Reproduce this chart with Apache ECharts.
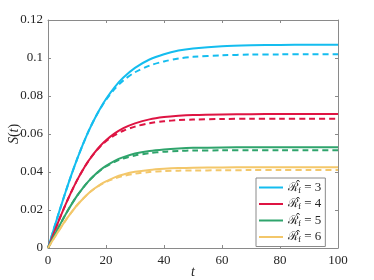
<!DOCTYPE html>
<html><head><meta charset="utf-8">
<script src="https://cdn.jsdelivr.net/npm/echarts@6/dist/echarts.min.js"></script>
<style>html,body{margin:0;padding:0;background:#fff}#c{width:374px;height:280px}</style>
</head><body><div id="c"></div>
<script>
const tValues   = [0, 2, 4, 6, 8, 10, 12, 14, 16, 18, 20, 23, 26, 30, 35, 40, 45, 50, 60, 70, 80, 90, 100];
const cyanSolid = [0, 0.0100, 0.0198, 0.0292, 0.0382, 0.0466, 0.0544, 0.0615, 0.0678, 0.0734, 0.0784, 0.0847, 0.0897, 0.0948, 0.0992, 0.1020, 0.1039, 0.1050, 0.1062, 0.1067, 0.1069, 0.1070, 0.1070];
const cyanDash  = [0, 0.0100, 0.0198, 0.0292, 0.0382, 0.0466, 0.0544, 0.0615, 0.0678, 0.0732, 0.0780, 0.0838, 0.0882, 0.0925, 0.0960, 0.0982, 0.0997, 0.1006, 0.1014, 0.1018, 0.1019, 0.1020, 0.1020];
const redSolid  = [0, 0.0078, 0.0154, 0.0227, 0.0294, 0.0356, 0.0411, 0.0459, 0.0501, 0.0537, 0.0567, 0.0603, 0.0631, 0.0656, 0.0677, 0.0689, 0.0696, 0.0700, 0.0703, 0.0704, 0.0705, 0.0705, 0.0705];
const redDash   = [0, 0.0078, 0.0154, 0.0227, 0.0294, 0.0356, 0.0411, 0.0459, 0.0500, 0.0534, 0.0562, 0.0594, 0.0617, 0.0639, 0.0657, 0.0667, 0.0673, 0.0676, 0.0679, 0.0680, 0.0680, 0.0680, 0.0680];
const greenSolid= [0, 0.0060, 0.0119, 0.0175, 0.0227, 0.0274, 0.0315, 0.0352, 0.0383, 0.0410, 0.0432, 0.0459, 0.0478, 0.0497, 0.0511, 0.0519, 0.0524, 0.0527, 0.0529, 0.0530, 0.0530, 0.0530, 0.0530];
const greenDash = [0, 0.0060, 0.0119, 0.0175, 0.0227, 0.0274, 0.0315, 0.0352, 0.0382, 0.0408, 0.0429, 0.0454, 0.0471, 0.0487, 0.0499, 0.0507, 0.0511, 0.0513, 0.0514, 0.0515, 0.0515, 0.0515, 0.0515];
const yellowSolid=[0, 0.0050, 0.0098, 0.0144, 0.0186, 0.0225, 0.0258, 0.0288, 0.0313, 0.0334, 0.0351, 0.0372, 0.0387, 0.0401, 0.0411, 0.0417, 0.0421, 0.0423, 0.0424, 0.0425, 0.0425, 0.0425, 0.0425];
const yellowDash= [0, 0.0050, 0.0098, 0.0144, 0.0186, 0.0225, 0.0258, 0.0288, 0.0312, 0.0332, 0.0348, 0.0366, 0.0379, 0.0391, 0.0400, 0.0405, 0.0407, 0.0408, 0.0409, 0.0410, 0.0410, 0.0410, 0.0410];
const rfValues  = ['3', '4', '5', '6'];
const xTicks    = ['0', '20', '40', '60', '80', '100'];
const yTicks    = ['0', '0.02', '0.04', '0.06', '0.08', '0.1', '0.12'];

const colors = ['#14BDEF', '#DE1443', '#2FA46C', '#F3C76A'];
const solids = [cyanSolid, redSolid, greenSolid, yellowSolid];
const dashes = [cyanDash, redDash, greenDash, yellowDash];
const pairs = arr => tValues.map((t, i) => [t, arr[i]]);

const series = [];
rfValues.forEach((r, k) => {
  series.push({
    name: 'Rf' + r, type: 'line', data: pairs(solids[k]), symbol: 'none', smooth: 0.3,
    lineStyle: { color: colors[k], width: 2 }, itemStyle: { color: colors[k] }, z: 3
  });
  series.push({
    name: 'dash' + r, type: 'line', data: pairs(dashes[k]), symbol: 'none', smooth: 0.3,
    lineStyle: { color: colors[k], width: 2, type: [6, 4] }, itemStyle: { color: colors[k] }, z: 2
  });
});

const serif = 'Liberation Serif';
const axisCol = '#8a8a8a';
const labelCol = '#262626';
const chart = echarts.init(document.getElementById('c'), null, { renderer: 'canvas' });
chart.setOption({
  animation: false,
  backgroundColor: '#fff',
  grid: { left: 48, right: 36, top: 20, bottom: 32, containLabel: false, outerBoundsMode: 'none' },
  xAxis: [{
    type: 'value', min: 0, max: 100, interval: 20,
    name: 't', nameLocation: 'middle', nameGap: 17, nameMoveOverlap: false,
    nameTextStyle: { fontFamily: serif, fontStyle: 'italic', fontSize: 14, color: labelCol },
    axisLine: { lineStyle: { color: axisCol, width: 1 } },
    axisTick: { inside: true, length: 3, lineStyle: { color: axisCol } },
    axisLabel: { fontFamily: serif, fontSize: 13, color: labelCol, margin: 6,
      formatter: v => xTicks[Math.round(v / 20)] },
    splitLine: { show: false }
  }, {
    type: 'value', min: 0, max: 100, interval: 20, position: 'top',
    axisLine: { onZero: false, lineStyle: { color: axisCol, width: 1 } },
    axisTick: { inside: true, length: 3, lineStyle: { color: axisCol } },
    axisLabel: { show: false }, splitLine: { show: false }
  }],
  yAxis: [{
    type: 'value', min: 0, max: 0.12, interval: 0.02,
    name: '{i|S}{n|(}{i|t}{n|)}', nameLocation: 'middle', nameGap: 27, nameRotate: 90, nameMoveOverlap: false,
    nameTextStyle: { rich: {
      i: { fontFamily: serif, fontStyle: 'italic', fontSize: 14, color: labelCol },
      n: { fontFamily: serif, fontSize: 14, color: labelCol } } },
    axisLine: { show: true, lineStyle: { color: axisCol, width: 1 } },
    axisTick: { show: true, inside: true, length: 3, lineStyle: { color: axisCol } },
    axisLabel: { fontFamily: serif, fontSize: 13, color: labelCol, margin: 5,
      formatter: v => yTicks[Math.round(v / 0.02)] },
    splitLine: { show: false }
  }, {
    type: 'value', min: 0, max: 0.12, interval: 0.02, position: 'right',
    axisLine: { show: true, onZero: false, lineStyle: { color: axisCol, width: 1 } },
    axisTick: { show: true, inside: true, length: 3, lineStyle: { color: axisCol } },
    axisLabel: { show: false }, splitLine: { show: false }
  }],
  legend: {
    data: rfValues.map(r => ({ name: 'Rf' + r, icon: 'rect' })),
    orient: 'vertical', left: 256, top: 178,
    backgroundColor: '#fff', borderColor: '#8a8a8a', borderWidth: 1,
    padding: [2, 4, 2, 3], itemWidth: 24, itemHeight: 2, itemGap: 1.5,
    formatter: name => '{r|\u211B}{h|\u02C6}{s|f}{n| = ' + name.slice(2) + '}',
    textStyle: { rich: {
      r: { fontFamily: 'DejaVu Serif', fontSize: 12, color: labelCol, lineHeight: 15 },
      h: { fontFamily: serif, fontSize: 12, color: labelCol, width: 0.01, align: 'right', verticalAlign: 'top', lineHeight: 15 },
      s: { fontFamily: serif, fontSize: 9, color: labelCol, verticalAlign: 'bottom', padding: [5, 0, 0, 0], lineHeight: 15 },
      n: { fontFamily: serif, fontSize: 13, color: labelCol, lineHeight: 15 }
    } }
  },
  series
});
</script></body></html>
